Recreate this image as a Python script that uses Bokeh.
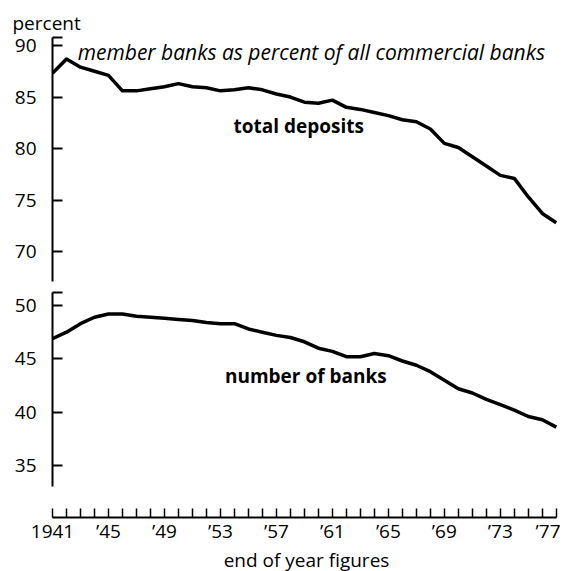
from bokeh.plotting import figure
from bokeh.layouts import column
from bokeh.models import Range1d, FixedTicker, Label
from bokeh.embed import file_html
from bokeh.resources import INLINE

years = list(range(1941, 1978))
deposits = [87.3, 88.7, 87.9, 87.5, 87.1, 85.6, 85.6, 85.8, 86.0, 86.3,
            86.0, 85.9, 85.6, 85.7, 85.9, 85.7, 85.3, 85.0, 84.5, 84.4,
            84.7, 84.0, 83.8, 83.5, 83.2, 82.8, 82.6, 81.9, 80.5, 80.1,
            79.2, 78.3, 77.4, 77.1, 75.3, 73.7, 72.8]
banks = [46.9, 47.5, 48.3, 48.9, 49.2, 49.2, 49.0, 48.9, 48.8, 48.7,
         48.6, 48.4, 48.3, 48.3, 47.8, 47.5, 47.2, 47.0, 46.6, 46.0,
         45.7, 45.2, 45.2, 45.5, 45.3, 44.8, 44.4, 43.8, 43.0, 42.2,
         41.8, 41.2, 40.7, 40.2, 39.6, 39.3, 38.6]
top_ticks = [70, 75, 80, 85, 90]
bottom_ticks = [35, 40, 45, 50]
x_label_years = [1941, 1945, 1949, 1953, 1957, 1961, 1965, 1969, 1973, 1977]
x_label_text = ["1941", "’45", "’49", "’53", "’57", "’61", "’65", "’69", "’73", "’77"]

FONT = "Open Sans"

xr = Range1d(1941, 1977.3)
TOP_END = 90.78
BOT_END = 51.22


def style(p, ticks, cap):
    p.outline_line_color = None
    p.grid.visible = False
    p.background_fill_color = "white"
    p.border_fill_color = "white"
    ax = p.yaxis[0]
    ax.ticker = FixedTicker(ticks=ticks + [cap])
    ov = {t: str(t) for t in ticks}
    ov[cap] = ""
    ax.major_label_overrides = ov
    ax.major_tick_in = 10
    ax.major_tick_out = 0
    ax.minor_tick_line_color = None
    ax.axis_line_width = 2
    ax.major_tick_line_width = 2
    ax.major_label_standoff = 16
    ax.major_label_text_font = FONT
    ax.major_label_text_font_size = "19px"
    ax.major_label_text_color = "black"


top = figure(frame_width=508, frame_height=246, x_range=xr,
             y_range=Range1d(66.9, TOP_END), output_backend="svg",
             toolbar_location=None, min_border_left=52, min_border_right=0,
             min_border_top=37, min_border_bottom=0)
style(top, top_ticks, TOP_END)
top.xaxis.visible = False
top.yaxis[0].bounds = (67.1, TOP_END)
top.line(years, deposits, line_width=3.5, color="black", line_join="round")

top.title.text = "percent"
top.title.align = "left"
top.title.offset = -40
top.title.text_font = FONT
top.title.text_font_size = "19px"
top.title.text_font_style = "normal"
top.title.text_color = "black"
top.title.standoff = 4

top.add_layout(Label(x=1942.8, y=89.4, text="member banks as percent of all commercial banks",
                     text_font=FONT, text_font_size="21px", text_font_style="italic",
                     text_baseline="middle", text_color="black"))
top.add_layout(Label(x=1958.6, y=82.2, text="total deposits", text_font=FONT,
                     text_font_size="19px", text_font_style="bold", text_align="center",
                     text_baseline="middle", text_color="black"))

bottom = figure(frame_width=508, frame_height=225, x_range=xr,
                y_range=Range1d(30.13, BOT_END), output_backend="svg",
                toolbar_location=None, min_border_left=52, min_border_right=0,
                min_border_top=9, min_border_bottom=0)
style(bottom, bottom_ticks, BOT_END)
bottom.yaxis[0].bounds = (33.0, BOT_END)
bottom.line(years, banks, line_width=3.5, color="black", line_join="round")
bottom.add_layout(Label(x=1959.1, y=43.35, text="number of banks", text_font=FONT,
                        text_font_size="19px", text_font_style="bold", text_align="center",
                        text_baseline="middle", text_color="black"))

xa = bottom.xaxis[0]
xa.ticker = FixedTicker(ticks=years)
xa.major_label_overrides = {y: "" for y in years}
xa.major_label_overrides.update({y: t for y, t in zip(x_label_years, x_label_text)})
xa.bounds = (1941, 1977)
xa.major_tick_in = 9
xa.major_tick_out = 0
xa.minor_tick_line_color = None
xa.axis_line_width = 2
xa.major_tick_line_width = 1.5
xa.major_label_standoff = 0
xa.major_label_text_font = FONT
xa.major_label_text_font_size = "19px"
xa.major_label_text_color = "black"
xa.axis_label = "end of year figures"
xa.axis_label_standoff = 0
xa.axis_label_text_font = FONT
xa.axis_label_text_font_size = "19px"
xa.axis_label_text_font_style = "normal"
xa.axis_label_text_color = "black"

layout = column(top, bottom, spacing=0)
open("out.html", "w").write(file_html(layout, INLINE))
